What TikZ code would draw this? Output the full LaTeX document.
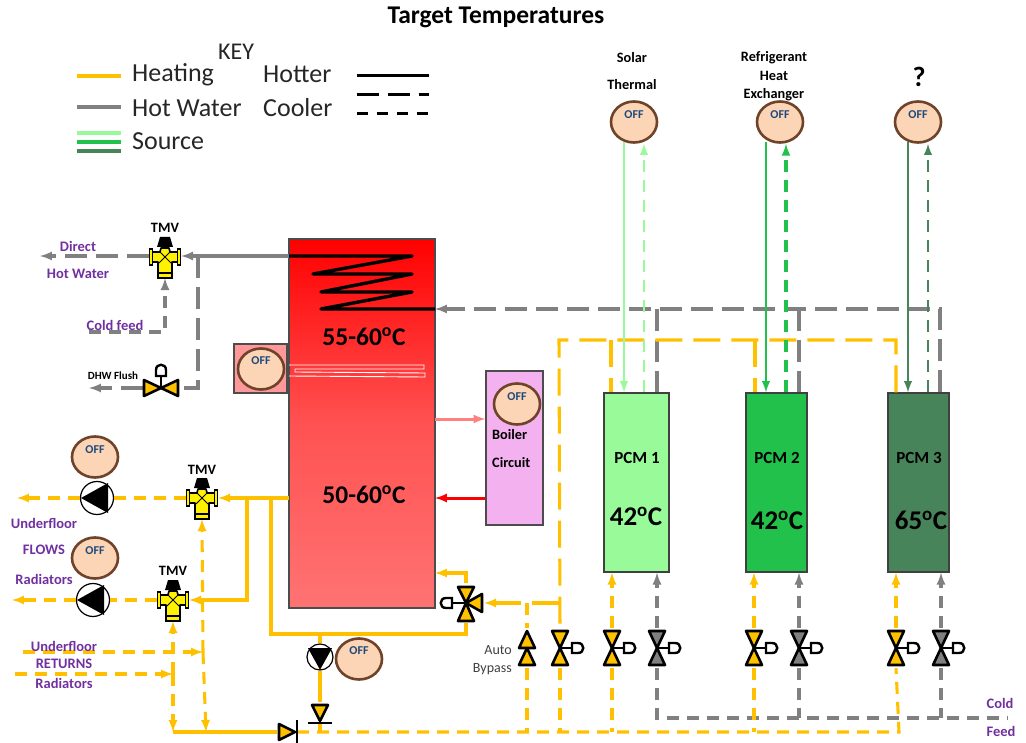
\documentclass[tikz,border=0pt]{standalone}
\usepackage{fontspec}
\setmainfont{Carlito}
\usetikzlibrary{shapes.geometric}
\definecolor{amber}{HTML}{FFC000}
\definecolor{pipegrey}{HTML}{808080}
\definecolor{sourcelight}{HTML}{99FA99}
\definecolor{sourcemid}{HTML}{22C14C}
\definecolor{sourcedark}{HTML}{47845A}
\definecolor{labelpurple}{HTML}{7030A0}
\definecolor{offfill}{HTML}{FBD5B5}
\definecolor{offline}{HTML}{6F432A}
\definecolor{offtext}{HTML}{1F497D}
\definecolor{boilerpink}{HTML}{F4B1EF}
\tikzset{
    gatevalve/.pic={
        \path[draw=black,fill,line width=2.6pt,line join=round] (0,0) -- (-8,-17) -- (8,-17) -- cycle;
        \path[draw=black,fill,line width=2.6pt,line join=round] (0,0) -- (-8,17) -- (8,17) -- cycle;
        \draw[black,line width=2.4pt] (0,0) -- (12,0);
        \path[draw=black,fill=white,line width=2.4pt] (12,-5) -- (18,-5) .. controls (25,-5) and (25,5) .. (18,5) -- (12,5) -- cycle;
    },
    threeway/.pic={
        \path[draw=black,fill,line width=2.6pt,line join=round] (0,0) -- (-8,-16) -- (8,-16) -- cycle;
        \path[draw=black,fill,line width=2.6pt,line join=round] (0,0) -- (-8,18) -- (8,18) -- cycle;
        \path[draw=black,fill,line width=2.6pt,line join=round] (0,0) -- (16,-9) -- (16,9) -- cycle;
        \draw[black,line width=2.4pt] (0,0) -- (-14,0);
        \path[draw=black,fill=white,line width=2.4pt] (-14,-5) -- (-20,-5) .. controls (-27,-5) and (-27,5) .. (-20,5) -- (-14,5) -- cycle;
    },
    bypassvalve/.pic={
        \path[draw=black,fill,line width=2.6pt,line join=round] (0,-17) -- (-8,0) -- (8,0) -- cycle;
        \path[draw=black,fill,line width=2.6pt,line join=round] (0,0) -- (-8,17) -- (8,17) -- cycle;
    },
    checkvalve/.pic={
        \path[draw=black,fill,line width=2.6pt,line join=round] (0,8) -- (-8,-8) -- (8,-8) -- cycle;
        \draw[black,line width=2.6pt] (-12,10) -- (12,10);
    },
    mixvalve/.pic={
        \fill[black] (-5,-20) -- (5,-20) -- (8,-10) -- (-8,-10) -- cycle;
        \path[draw=black,fill=yellow,line width=1.6pt,line join=round] (-13,-5) -- (-5,-5) -- (-4,-9) -- (4,-9) -- (5,-5) -- (13,-5) -- (13,5) -- (7,5) -- (7,16) -- (-7,16) -- (-7,5) -- (-13,5) -- cycle;
        \path[draw=black,fill=yellow,line width=1.6pt] (-15.5,-8) rectangle (-12.5,8);
        \path[draw=black,fill=yellow,line width=1.6pt] (12.5,-8) rectangle (15.5,8);
        \path[draw=black,fill=yellow,line width=1.6pt] (-7,16) rectangle (7,21);
        \draw[black,line width=.8pt] (-6,-6) -- (6,6) (-6,6) -- (6,-6);
    },
    pumphead/.pic={
        \fill[black] (-16,0) -- (11,-15) -- (11,15) -- cycle;
    },
}
\begin{document}
\begin{tikzpicture}[
    x=1pt,y=-1pt,
    port/.style={rectangle, inner sep=0pt, minimum width=18pt, minimum height=40pt},
    mixport/.style={rectangle, inner sep=0pt, minimum width=32pt, minimum height=42pt},
    pumpnode/.style={circle, draw=black, fill=white, line width=1.2pt, inner sep=0pt, minimum size=33pt},
    offnode/.style={ellipse, draw=offline, fill=offfill, line width=2.6pt, inner sep=0pt, minimum width=46pt, minimum height=41pt},
    offword/.style={font=\fontsize{12}{13}\selectfont\bfseries, text=offtext},
    pcmbox/.style={rectangle, draw=black!75, line width=1.4pt, inner sep=0pt, minimum height=179pt},
    keytext/.style={font=\fontsize{26}{28}\selectfont, text=black!85, inner sep=0pt, anchor=west},
    purpletext/.style={font=\fontsize{14.5}{16}\selectfont\bfseries, text=labelpurple, inner sep=0pt},
    blacktext/.style={font=\fontsize{14.3}{16}\selectfont\bfseries, inner sep=0pt},
    pcmtext/.style={font=\fontsize{17}{19}\selectfont\bfseries, inner sep=0pt},
    temptext/.style={font=\fontsize{25.5}{28}\selectfont\bfseries, inner sep=0pt},
    heatpipe/.style={amber, line width=3.05pt},
    waterpipe/.style={pipegrey, line width=3.05pt},
    longdash/.style={dash pattern=on 27pt off 11pt},
    middash/.style={dash pattern=on 22pt off 9pt},
    shortdash/.style={dash pattern=on 12pt off 8pt},
]
    \useasboundingbox (0,0) rectangle (1026,743);

    %Text
    \node[font=\fontsize{25.5}{28}\selectfont\bfseries, inner sep=0pt] (title) at (496,17) {Target Temperatures};
    \node[font=\fontsize{24}{26}\selectfont, text=black!85, inner sep=0pt] (keytitle) at (236,52) {KEY};
    \node[keytext] (keyheat) at (132,74.5) {Heating};
    \node[keytext] (keywater) at (132,108) {Hot Water};
    \node[keytext] (keysource) at (132,141) {Source};
    \node[keytext] (keyhotter) at (263,74.5) {Hotter};
    \node[keytext] (keycooler) at (263,108) {Cooler};

    %Nodes
    \node[rectangle, draw=black!70, line width=1.2pt, top color=red, bottom color=red!55, middle color=red!68, inner sep=0pt, minimum width=146pt, minimum height=369pt] (tank) at (362,423.5) {};
    \node[rectangle, draw=black!70, line width=1.4pt, fill=red!40, inner sep=0pt, minimum width=53pt, minimum height=49pt] (heaterbox) at (260.5,368.5) {};
    \node[rectangle, draw=black!70, line width=1.2pt, fill=boilerpink, inner sep=0pt, minimum width=57pt, minimum height=154pt] (boiler) at (514.5,448) {};
    \node[pcmbox, fill=sourcelight, minimum width=65pt] (pcm1) at (636.5,482.5) {};
    \node[pcmbox, fill=sourcemid, minimum width=61pt] (pcm2) at (776.5,482.5) {};
    \node[pcmbox, fill=sourcedark, minimum width=61pt] (pcm3) at (918.5,482.5) {};

    \node[offnode] (offsolar) at (634,122) {};
    \node[offnode] (offrefrig) at (780,122) {};
    \node[offnode] (offunknown) at (918,122) {};
    \node[offnode] (offheater) at (261,369) {};
    \node[offnode] (offboiler) at (517,404) {};
    \node[offnode] (offfloor) at (95,457) {};
    \node[offnode] (offrad) at (95,558) {};
    \node[offnode] (offprimary) at (359,659) {};

    \node[mixport] (tmvdhw) at (165,257) {};
    \node[mixport] (tmvfloor) at (202,498) {};
    \node[mixport] (tmvrad) at (173,600) {};
    \node[pumpnode] (pumpfloor) at (97,498) {};
    \node[pumpnode] (pumprad) at (93,600) {};
    \node[pumpnode, minimum size=26pt] (pumpprimary) at (320,657) {};

    \node[port, minimum width=36pt, minimum height=20pt] (flushvalve) at (161,388) {};
    \node[port, minimum width=36pt] (threevalve) at (466,603) {};
    \node[port] (bypass) at (527,648) {};
    \node[port] (valvemain) at (560,648) {};
    \node[port] (valveheatA) at (612,648) {};
    \node[port] (valvecoldA) at (657,648) {};
    \node[port] (valveheatB) at (754,648) {};
    \node[port] (valvecoldB) at (799,648) {};
    \node[port] (valveheatC) at (896,648) {};
    \node[port] (valvecoldC) at (941,648) {};
    \node[port, minimum height=22pt, minimum width=24pt] (checkdown) at (320,713) {};
    \node[port, minimum height=24pt, minimum width=20pt] (checkright) at (287,732) {};

    %Free ends and junctions
    \coordinate (coilin) at (289,256);
    \coordinate (coilout) at (435,309);
    \coordinate (coilA) at (412,256);
    \coordinate (coilB) at (313,274);
    \coordinate (coilC) at (412,274);
    \coordinate (coilD) at (321,292);
    \coordinate (coilE) at (412,292);
    \coordinate (coilF) at (321,309);
    \coordinate (hotjoin) at (198,256);
    \coordinate (flushcorner) at (198,388);
    \coordinate (directend) at (40,256);
    \coordinate (flushend) at (89,388);
    \coordinate (coldstart) at (89,332);
    \coordinate (coldcorner) at (165,332);
    \coordinate (tankout) at (435,419);
    \coordinate (tankin) at (435,498);
    \coordinate (heatout) at (289,498);
    \coordinate (joinrad) at (247,498);
    \coordinate (joinloop) at (271,498);
    \coordinate (radcorner) at (247,600);
    \coordinate (loopA) at (271,634);
    \coordinate (loopB) at (466,634);
    \coordinate (primaryjoin) at (320,634);
    \coordinate (backA) at (466,573);
    \coordinate (backB) at (435,573);
    \coordinate (floorend) at (17,498);
    \coordinate (radend) at (12,600);
    \coordinate (floorret) at (23,652);
    \coordinate (radret) at (15,674);
    \coordinate (floorjoin) at (203,652);
    \coordinate (radjoin) at (173,674);
    \coordinate (floordown) at (206,732);
    \coordinate (raddown) at (173,732);
    \coordinate (checkjoin) at (320,732);
    \coordinate (bottomC) at (899,732);
    \coordinate (bottomend) at (1008,718);
    \coordinate (coldA) at (657,718);
    \coordinate (coldB) at (799,718);
    \coordinate (coldC) at (941,718);
    \coordinate (greyA) at (657,309);
    \coordinate (greyB) at (799,309);
    \coordinate (greyC) at (940,309);
    \coordinate (amberleft) at (559,340);
    \coordinate (amberA) at (611,340);
    \coordinate (amberB) at (755,340);
    \coordinate (amberC) at (896,340);
    \coordinate (threejoin) at (559,603);
    \coordinate (bypassjoin) at (527,603);
    \coordinate (heatA) at (289,365);
    \coordinate (heatB) at (424,365);
    \coordinate (heatC) at (424,369);
    \coordinate (heatD) at (295,369);
    \coordinate (heatE) at (295,372);
    \coordinate (heatF) at (425,373);
    \coordinate (heatG) at (425,377);
    \coordinate (heatH) at (289,376);

    %Key lines
    \draw[heatpipe] ([xshift=-55pt,yshift=-1.5pt]keyheat.west) -- ([xshift=-11pt,yshift=-1.5pt]keyheat.west);
    \draw[waterpipe] ([xshift=-55pt,yshift=1pt]keywater.west) -- ([xshift=-11pt,yshift=1pt]keywater.west);
    \draw[sourcelight, line width=3.05pt] ([xshift=-55pt,yshift=8pt]keysource.west) -- ([xshift=-11pt,yshift=8pt]keysource.west);
    \draw[sourcemid, line width=3.05pt] ([xshift=-55pt,yshift=-1pt]keysource.west) -- ([xshift=-11pt,yshift=-1pt]keysource.west);
    \draw[sourcedark, line width=3.05pt] ([xshift=-55pt,yshift=-10pt]keysource.west) -- ([xshift=-11pt,yshift=-10pt]keysource.west);
    \draw[black, line width=3pt] ([xshift=25pt,yshift=-1.5pt]keyhotter.east) -- ([xshift=97pt,yshift=-1.5pt]keyhotter.east);
    \draw[black, line width=3pt, dash pattern=on 22pt off 9pt] ([xshift=24pt,yshift=13pt]keycooler.east) -- ([xshift=96pt,yshift=13pt]keycooler.east);
    \draw[black, line width=3pt, dash pattern=on 11pt off 9pt] ([xshift=24pt,yshift=-6pt]keycooler.east) -- ([xshift=96pt,yshift=-6pt]keycooler.east);

    %Lines, tank and boiler
    \draw[black, line width=3.4pt, line join=round] (coilin) -- (coilA) -- (coilB) -- (coilC) -- (coilD) -- (coilE) -- (coilF) -- (coilout);
    \draw[white, line width=.9pt] (heatA) -- (heatB) -- (heatC) -- (heatD) -- (heatE) -- (heatF) -- (heatG) -- (heatH);
    \draw[-latex, red!50, line width=3pt] (tankout) -- (tankout -| boiler.west);
    \draw[-latex, red, line width=3pt] (boiler.west |- tankin) -- (tankin);

    %Lines, hot water
    \draw[-latex, waterpipe] (coilin) -- (tmvdhw.east |- coilin);
    \draw[waterpipe, middash] (hotjoin) -- (flushcorner) -- (flushvalve.east);
    \draw[-latex, waterpipe, middash] (tmvdhw.west |- coilin) -- (directend);
    \draw[-latex, waterpipe, middash] (flushvalve.west) -- (flushend);
    \draw[-latex, waterpipe, shortdash] (coldstart) -- (coldcorner) -- (tmvdhw.south);
    \draw[-latex, waterpipe, middash] (greyC |- pcm3.north) -- (greyC) -- (coilout);
    \draw[waterpipe, middash] (greyA) -- (greyA |- pcm1.north);
    \draw[waterpipe, middash] (greyB) -- (greyB |- pcm2.north);
    \draw[-latex, waterpipe, shortdash] (valvecoldA.north) -- (valvecoldA.north |- pcm1.south);
    \draw[-latex, waterpipe, shortdash] (valvecoldB.north) -- (valvecoldB.north |- pcm2.south);
    \draw[-latex, waterpipe, shortdash] (valvecoldC.north) -- (valvecoldC.north |- pcm3.south);
    \draw[waterpipe, shortdash] (valvecoldA.south) -- (coldA) -- (bottomend);
    \draw[waterpipe, shortdash] (valvecoldB.south) -- (coldB);
    \draw[waterpipe, shortdash] (valvecoldC.south) -- (coldC);

    %Lines, heating
    \draw[-latex, heatpipe] (heatout) -- (tmvfloor.east);
    \draw[-latex, heatpipe] (joinrad) -- (radcorner) -- (tmvrad.east);
    \draw[heatpipe] (joinloop) -- (loopA) -- (loopB) -- (threevalve.south);
    \draw[-latex, heatpipe] (threevalve.north) -- (backA) -- (backB);
    \draw[heatpipe] (primaryjoin) -- (pumpprimary.north);
    \draw[heatpipe] (pumpprimary.south) -- (checkdown.north);
    \draw[heatpipe] (checkdown.south) -- (checkjoin);
    \draw[heatpipe] (raddown) -- (checkright.west);
    \draw[heatpipe, shortdash] (tmvfloor.west) -- (pumpfloor.east);
    \draw[-latex, heatpipe, shortdash] (pumpfloor.west) -- (floorend);
    \draw[heatpipe, shortdash] (tmvrad.west) -- (pumprad.east);
    \draw[-latex, heatpipe, shortdash] (pumprad.west) -- (radend);
    \draw[-latex, heatpipe, shortdash] (floorret) -- (floorjoin);
    \draw[-latex, heatpipe, shortdash] (radret) -- (radjoin);
    \draw[-latex, heatpipe, shortdash] (floorjoin) -- (tmvfloor.south);
    \draw[-latex, heatpipe, shortdash] (radjoin) -- (tmvrad.south);
    \draw[-latex, heatpipe, shortdash] (floorjoin) -- (floordown);
    \draw[-latex, heatpipe, shortdash] (radjoin) -- (raddown);
    \draw[heatpipe, shortdash] (checkright.east) -- (bottomC) -- (valveheatC.south);
    \draw[heatpipe, shortdash] (bypass.south) -- (bypass.south |- bottomC);
    \draw[heatpipe, shortdash] (valvemain.south) -- (valvemain.south |- bottomC);
    \draw[heatpipe, shortdash] (valveheatA.south) -- (valveheatA.south |- bottomC);
    \draw[heatpipe, shortdash] (valveheatB.south) -- (valveheatB.south |- bottomC);
    \draw[heatpipe, shortdash] (bypassjoin) -- (bypass.north);
    \draw[-latex, heatpipe, longdash] (threejoin) -- (threevalve.east);
    \draw[-latex, heatpipe, shortdash] (valveheatA.north) -- (valveheatA.north |- pcm1.south);
    \draw[-latex, heatpipe, shortdash] (valveheatB.north) -- (valveheatB.north |- pcm2.south);
    \draw[-latex, heatpipe, shortdash] (valveheatC.north) -- (valveheatC.north |- pcm3.south);
    \draw[heatpipe, longdash] (amberC |- pcm3.north) -- (amberC) -- (amberleft) -- (valvemain.north);
    \draw[heatpipe, longdash] (amberA) -- (amberA |- pcm1.north);
    \draw[heatpipe, longdash] (amberB) -- (amberB |- pcm2.north);

    %Lines, sources
    \draw[-latex, sourcelight, line width=2.8pt] ([xshift=-10pt,yshift=2pt]offsolar.south) -- ([xshift=-10pt]offsolar.south |- pcm1.north);
    \draw[-latex, sourcelight, line width=2.8pt, shortdash] ([xshift=10pt]offsolar.south |- pcm1.north) -- ([xshift=10pt]offsolar.south);
    \draw[-latex, sourcemid, line width=2.8pt] ([xshift=-14pt,yshift=2pt]offrefrig.south) -- ([xshift=-14pt]offrefrig.south |- pcm2.north);
    \draw[-latex, sourcemid, line width=3.05pt, shortdash] ([xshift=6pt]offrefrig.south |- pcm2.north) -- ([xshift=6pt]offrefrig.south);
    \draw[-latex, sourcedark, line width=2.8pt] ([xshift=-10pt,yshift=2pt]offunknown.south) -- ([xshift=-10pt]offunknown.south |- pcm3.north);
    \draw[-latex, sourcedark, line width=2.8pt, shortdash] ([xshift=10pt]offunknown.south |- pcm3.north) -- ([xshift=10pt]offunknown.south);

    %Valves and pumps
    \pic at (tmvdhw) {mixvalve};
    \pic at (tmvfloor) {mixvalve};
    \pic at (tmvrad) {mixvalve};
    \pic at (pumpfloor) {pumphead};
    \pic at (pumprad) {pumphead};
    \pic[rotate=90, scale=.8] at (pumpprimary) {pumphead};
    \pic[rotate=90, fill=amber] at (flushvalve) {gatevalve};
    \pic[fill=amber] at (threevalve) {threeway};
    \pic[fill=amber] at (bypass) {bypassvalve};
    \pic[fill=amber] at (valvemain) {gatevalve};
    \pic[fill=amber] at (valveheatA) {gatevalve};
    \pic[fill=amber] at (valveheatB) {gatevalve};
    \pic[fill=amber] at (valveheatC) {gatevalve};
    \pic[fill=pipegrey] at (valvecoldA) {gatevalve};
    \pic[fill=pipegrey] at (valvecoldB) {gatevalve};
    \pic[fill=pipegrey] at (valvecoldC) {gatevalve};
    \pic[fill=amber] at (checkdown) {checkvalve};
    \pic[rotate=90, fill=amber] at (checkright) {checkvalve};

    %Labels
    \node[offword] (wordsolar) at (634,115) {OFF};
    \node[offword] (wordrefrig) at (780,115) {OFF};
    \node[offword] (wordunknown) at (918,115) {OFF};
    \node[offword] (wordheater) at (261,361) {OFF};
    \node[offword] (wordboiler) at (517,397) {OFF};
    \node[offword] (wordfloor) at (95,450) {OFF};
    \node[offword] (wordrad) at (95,551) {OFF};
    \node[offword] (wordprimary) at (359,651) {OFF};

    \node[temptext] (temptop) at (364,337) {55-60\textsuperscript{o}C};
    \node[temptext] (tempmid) at (364,495) {50-60\textsuperscript{o}C};
    \node[temptext, font=\fontsize{27}{29}\selectfont\bfseries] (tempA) at (636,516) {42\textsuperscript{o}C};
    \node[temptext, font=\fontsize{27}{29}\selectfont\bfseries] (tempB) at (777,520) {42\textsuperscript{o}C};
    \node[temptext, font=\fontsize{27}{29}\selectfont\bfseries] (tempC) at (921,520) {65\textsuperscript{o}C};
    \node[pcmtext] (nameA) at (637,458) {PCM 1};
    \node[pcmtext] (nameB) at (777,458) {PCM 2};
    \node[pcmtext] (nameC) at (919,458) {PCM 3};
    \node[blacktext, anchor=west] (boilerA) at (492,435) {Boiler};
    \node[blacktext, anchor=west] (boilerB) at (492,463) {Circuit};

    \node[blacktext] (solarA) at (632,58) {Solar};
    \node[blacktext] (solarB) at (632,85) {Thermal};
    \node[blacktext] (refrigA) at (774,58) {Refrigerant};
    \node[blacktext] (refrigB) at (774,76) {Heat};
    \node[blacktext] (refrigC) at (774,95) {Exchanger};
    \node[font=\fontsize{28}{30}\selectfont\bfseries, inner sep=0pt] (unknown) at (919,77) {?};
    \node[blacktext] (tmvtextA) at (165,228) {TMV};
    \node[blacktext] (tmvtextB) at (202,470) {TMV};
    \node[blacktext] (tmvtextC) at (173,571) {TMV};
    \node[font=\fontsize{11}{12}\selectfont\bfseries, inner sep=0pt] (flushtext) at (113,376) {DHW Flush};
    \node[font=\fontsize{14}{16}\selectfont, text=black!75, inner sep=0pt, anchor=east] (autotext) at (512,650) {Auto};
    \node[font=\fontsize{14}{16}\selectfont, text=black!75, inner sep=0pt, anchor=east] (bypasstext) at (512,669) {Bypass};

    \node[purpletext] (directtext) at (78,246) {Direct};
    \node[purpletext] (hotwatertext) at (78,274) {Hot Water};
    \node[purpletext] (coldfeedtext) at (115,325) {Cold feed};
    \node[purpletext] (floorflow) at (44,523) {Underfloor};
    \node[purpletext] (flowstext) at (44,550) {FLOWS};
    \node[purpletext] (radflow) at (44,579) {Radiators};
    \node[purpletext] (floorreturn) at (64,646) {Underfloor};
    \node[purpletext] (returnstext) at (64,664) {RETURNS};
    \node[purpletext] (radreturn) at (64,683) {Radiators};
    \node[purpletext] (coldtext) at (1000,703) {Cold};
    \node[purpletext] (feedtext) at (1001,731) {Feed};
\end{tikzpicture}
\end{document}
